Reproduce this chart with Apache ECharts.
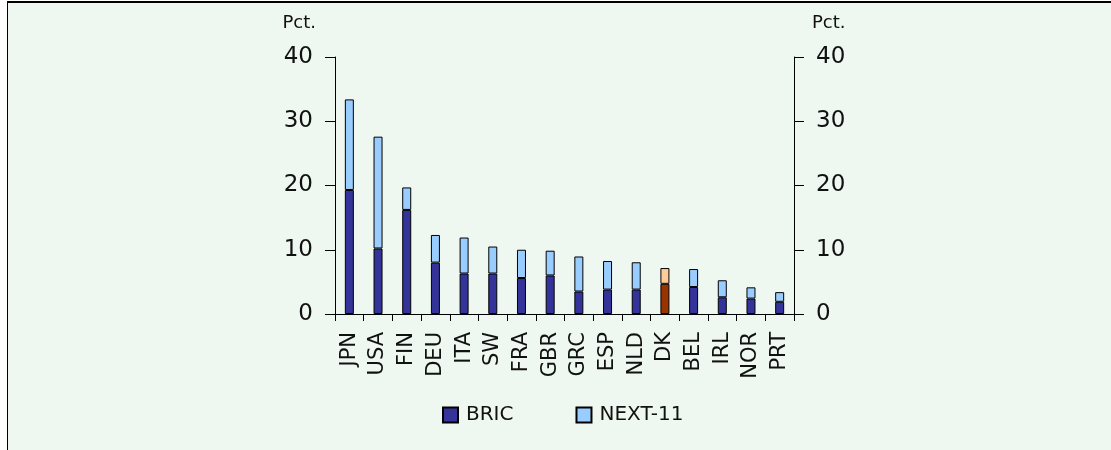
<!DOCTYPE html>
<html>
<head>
<meta charset="utf-8">
<script src="https://cdn.jsdelivr.net/npm/echarts@6/dist/echarts.min.js"></script>
<style>
  html, body { margin: 0; padding: 0; background: #ffffff; }
  #frame {
    position: absolute; left: 7px; top: 1px; width: 1104px; height: 449px;
    box-sizing: border-box; background: #eef7f0;
    border-top: 2px solid #000; border-left: 1px solid #000;
  }
  #chart { position: absolute; left: 0; top: 0; width: 1111px; height: 450px; }
</style>
</head>
<body>
<div id="frame"></div>
<div id="chart"></div>
<script>
// Countries, ordered by combined export share
const countries = ['JPN', 'USA', 'FIN', 'DEU', 'ITA', 'SW', 'FRA', 'GBR', 'GRC', 'ESP', 'NLD', 'DK', 'BEL', 'IRL', 'NOR', 'PRT'];
// Share of exports going to BRIC and NEXT-11 markets, pct.
const bric   = [19.3, 10.2, 16.2, 8.0, 6.3, 6.3, 5.6, 6.0, 3.5, 3.8, 3.8, 4.7, 4.2, 2.6, 2.4, 1.9];
const next11 = [14.1, 17.4, 3.5, 4.3, 5.6, 4.2, 4.4, 3.85, 5.45, 4.45, 4.25, 2.45, 2.8, 2.65, 1.75, 1.5];
const yTicks = [0, 10, 20, 30, 40];
const highlight = 'DK';

const FONT = '"DejaVu Sans", "Open Sans", sans-serif';
const INK = '#111111';

function withHighlight(values, color) {
  return values.map((v, i) => countries[i] === highlight
    ? { value: v, itemStyle: { color: color } }
    : v);
}

function valueAxis(pos) {
  return {
    type: 'value', position: pos,
    min: yTicks[0], max: yTicks[yTicks.length - 1], interval: 10,
    axisLine: { show: true, lineStyle: { color: '#000', width: 1 } },
    axisTick: { show: true, length: 10, lineStyle: { color: '#000' } },
    splitLine: { show: false },
    axisLabel: { margin: 22, fontFamily: FONT, fontSize: 23, color: INK }
  };
}

const chart = echarts.init(document.getElementById('chart'), null, { renderer: 'canvas' });
chart.setOption({
  backgroundColor: 'transparent',
  animation: false,
  grid: { left: 335, right: 317, top: 57, bottom: 136, containLabel: false },
  xAxis: {
    type: 'category', data: countries, boundaryGap: true,
    axisLine: { lineStyle: { color: '#000', width: 1 } },
    axisTick: { show: true, length: 7, alignWithLabel: false, lineStyle: { color: '#000' } },
    axisLabel: { rotate: 90, margin: 18, interval: 0, fontFamily: FONT, fontSize: 21, color: INK }
  },
  yAxis: [valueAxis('left'), valueAxis('right')],
  legend: {
    left: 442, top: 405, padding: 0, itemWidth: 15, itemHeight: 15, itemGap: 62,
    icon: 'rect',
    textStyle: { fontFamily: FONT, fontSize: 20, color: INK, padding: [0, 0, 0, 3] },
    data: ['BRIC', 'NEXT-11']
  },
  graphic: [
    { type: 'text', style: { x: 316, y: 23, text: 'Pct.', font: '18px ' + FONT, fill: INK, align: 'right', verticalAlign: 'middle' } },
    { type: 'text', style: { x: 812, y: 23, text: 'Pct.', font: '18px ' + FONT, fill: INK, align: 'left', verticalAlign: 'middle' } }
  ],
  series: [
    {
      name: 'BRIC', type: 'bar', stack: 'total', barWidth: 9,
      itemStyle: { color: '#333399', borderColor: '#000', borderWidth: 1 },
      data: withHighlight(bric, '#993300')
    },
    {
      name: 'NEXT-11', type: 'bar', stack: 'total', barWidth: 9,
      itemStyle: { color: '#99ccff', borderColor: '#000', borderWidth: 1 },
      data: withHighlight(next11, '#ffcc99')
    }
  ]
});
</script>
</body>
</html>
